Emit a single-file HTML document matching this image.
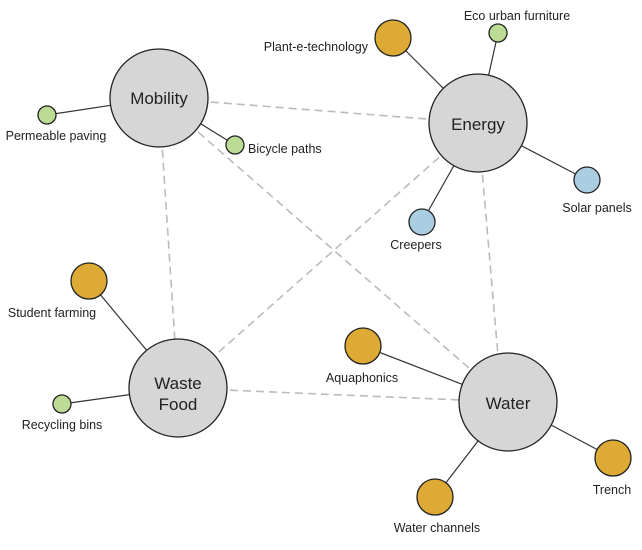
<!DOCTYPE html>
<html><head><style>body{margin:0;background:#fff}svg{display:block}text{font-family:"Liberation Sans",sans-serif;fill:#222}</style></head>
<body>
<svg width="642" height="550" viewBox="0 0 642 550">
<g stroke="#bbb" stroke-width="1.6" stroke-dasharray="8,5" fill="none">
<line x1="159" y1="98" x2="478" y2="123"/>
<line x1="159" y1="98" x2="178" y2="388"/>
<line x1="159" y1="98" x2="508" y2="402"/>
<line x1="478" y1="123" x2="178" y2="388"/>
<line x1="478" y1="123" x2="502" y2="402"/>
<line x1="178" y1="388" x2="508" y2="402"/>
</g>
<g stroke="#333" stroke-width="1.2">
<line x1="159" y1="98" x2="47" y2="115"/>
<line x1="159" y1="98" x2="235" y2="145"/>
<line x1="478" y1="123" x2="393" y2="38"/>
<line x1="478" y1="123" x2="498" y2="33"/>
<line x1="478" y1="123" x2="587" y2="180"/>
<line x1="478" y1="123" x2="422" y2="222"/>
<line x1="178" y1="388" x2="89" y2="281"/>
<line x1="178" y1="388" x2="62" y2="404"/>
<line x1="508" y1="402" x2="363" y2="346"/>
<line x1="508" y1="402" x2="613" y2="458"/>
<line x1="508" y1="402" x2="435" y2="497"/>
</g>
<g stroke="#222" stroke-width="1.3">
<circle cx="159" cy="98" r="49" fill="#d6d6d6"/>
<circle cx="478" cy="123" r="49" fill="#d6d6d6"/>
<circle cx="178" cy="388" r="49" fill="#d6d6d6"/>
<circle cx="508" cy="402" r="49" fill="#d6d6d6"/>
<g fill="#bcdb95"><circle cx="47" cy="115" r="9"/><circle cx="235" cy="145" r="9"/><circle cx="498" cy="33" r="9"/><circle cx="62" cy="404" r="9"/></g>
<g fill="#aacde2"><circle cx="587" cy="180" r="13"/><circle cx="422" cy="222" r="13"/></g>
<g fill="#dcaa35"><circle cx="393" cy="38" r="18"/><circle cx="89" cy="281" r="18"/><circle cx="363" cy="346" r="18"/><circle cx="613" cy="458" r="18"/><circle cx="435" cy="497" r="18"/></g>
</g>
<g font-size="17" text-anchor="middle">
<text x="159" y="104">Mobility</text>
<text x="478" y="130">Energy</text>
<text x="178" y="389">Waste</text>
<text x="178" y="410">Food</text>
<text x="508" y="409">Water</text>
</g>
<g font-size="12.5" text-anchor="middle">
<text x="56" y="140">Permeable paving</text>
<text x="248" y="153" text-anchor="start">Bicycle paths</text>
<text x="368" y="51" text-anchor="end">Plant-e-technology</text>
<text x="517" y="20">Eco urban furniture</text>
<text x="597" y="212">Solar panels</text>
<text x="416" y="249">Creepers</text>
<text x="52" y="317">Student farming</text>
<text x="62" y="429">Recycling bins</text>
<text x="362" y="382">Aquaphonics</text>
<text x="612" y="494">Trench</text>
<text x="437" y="532">Water channels</text>
</g>
</svg>
</body></html>
